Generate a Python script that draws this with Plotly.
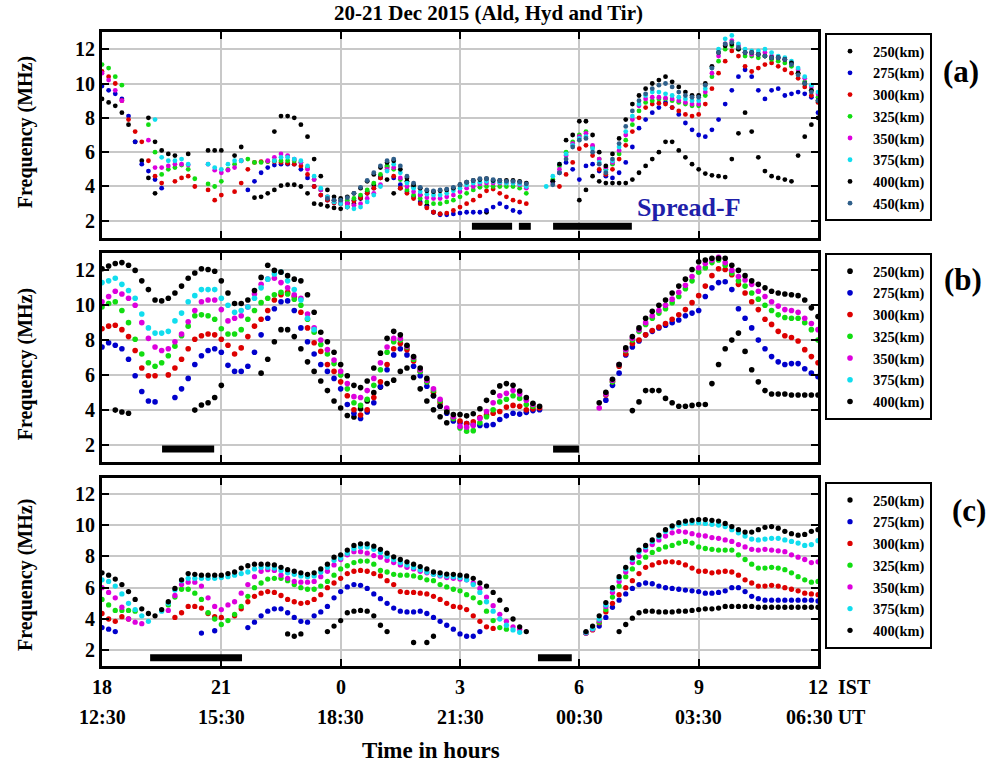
import plotly.graph_objects as go

N = None
# sampling grid: 10-minute steps from 18 IST (day 1) to 12 IST (day 2), hours on a continuous 18..36 scale
T = [18 + k / 6 for k in range(109)]

HEIGHTS_A = ["250(km)", "275(km)", "300(km)", "325(km)", "350(km)", "375(km)", "400(km)", "450(km)"]
HEIGHTS_BC = ["250(km)", "275(km)", "300(km)", "325(km)", "350(km)", "375(km)", "400(km)"]

# ---------------- panel (a) ----------------
A_250 = [
    9.1, 8.9, 8.7, 8.3, 7.6, 6.6,
    5.5, 4.5, 3.6, N, N, N,
    N, N, N, N, N, N,
    N, N, N, N, N, 3.35,
    3.4, 3.6, 3.8, 4.05, 4.1, 4.1,
    4.0, 3.6, 3.0, 2.95, 2.85, 2.75,
    2.7, 2.8, 3.0, 3.3, 3.7, 4.1,
    4.5, 4.4, 3.6, 3.9, 4.3, 4.0,
    3.5, 2.9, 2.5, 2.4, N, N,
    N, N, N, N, 2.5, N,
    N, N, N, N, N, N,
    N, N, N, N, N, N,
    3.2, 3.8, 4.6, 4.3, 4.2, 4.2,
    4.2, 4.2, 4.4, 4.8, 5.2, 5.6,
    6.0, 6.6, 6.6, 6.1, 5.7, 5.3,
    5.0, 4.75, 4.65, 4.6, 4.55, 5.6,
    7.1, 8.3, 7.2, 5.7, 4.9, 4.6,
    4.5, 4.4, 4.3, 5.8, 6.9, 7.6,
    8.0]
A_275 = [
    9.85, 9.6, 9.4, 9.1, 8.1, 6.6,
    5.3, 4.9, 4.4, 3.9, N, N,
    N, N, N, N, N, N,
    N, N, N, N, 3.8, 4.3,
    4.8, 5.1, 5.25, 5.3, 5.3, 5.3,
    5.0, 4.5, 4.0, 3.5, 3.2, 3.05,
    3.0, 3.05, 3.2, 3.4, 3.6, 3.9,
    4.6, 5.2, 4.5, 4.1, 3.7, 3.4,
    3.1, 2.8, 2.5, 2.35, 2.35, 2.4,
    2.45, 2.5, 2.5, 2.5, 2.6, 2.8,
    3.0, 2.8, 2.6, 2.5, N, N,
    N, N, 4.3, 4.8, 5.4, 5.0,
    4.4, 5.2, 5.3, 4.9, 4.6, 4.5,
    4.8, 5.4, 6.3, 7.4, 7.9, 8.3,
    8.6, 8.9, 8.6, 8.2, 7.7, 7.3,
    7.0, 6.9, 7.3, 7.9, 8.8, 9.6,
    10.4, 10.8, 10.4, 9.6, 9.1, 9.6,
    9.7, 9.3, 9.4, 9.5, 9.4, 9.2,
    8.3]
A_300 = [
    10.7, 10.4, 10.0, 9.0, 7.9, 7.2,
    6.6, 5.5, 4.6, 4.2, N, 4.3,
    4.5, 4.6, 4.0, N, 3.8, 3.2,
    3.5, N, 3.7, 4.2, 5.0, 5.4,
    5.45, 5.45, 5.45, 5.4, 5.35, 5.3,
    5.2, 4.7, 4.0, 3.5, 3.2, 3.05,
    3.0, 3.0, 3.15, 3.35, 3.6, 3.9,
    4.5, 5.1, 4.6, 3.9, 3.6, 3.3,
    3.0, 2.75, 2.5, 2.4, 2.45, 2.6,
    2.8, 3.0, 3.2, 3.45, 3.75, 3.85,
    3.6, 3.4, 3.2, 3.1, 3.0, N,
    N, N, N, 4.0, 4.7, 5.4,
    6.2, 6.4, 5.8, 5.0, 4.7, 5.0,
    5.6, 6.4, 7.2, 8.0, 8.6, 8.8,
    8.85, 8.8, 8.6, 8.4, 8.2, 8.1,
    8.2, 8.8, 9.7, 10.6, 11.3, 11.9,
    11.6, 11.0, 10.7, 10.9, 11.1, 11.2,
    11.0, 10.8, 10.6, 10.3, 9.8, 9.3,
    8.9]
A_325 = [
    11.1, 10.9, 10.4, 9.9, N, N,
    N, 7.6, 6.0, 4.7, 5.0, 5.1,
    5.25, 5.0, 4.45, N, 4.15, 4.0,
    4.3, 5.0, 5.3, 5.5, 5.6, 5.4,
    5.4, 5.45, 5.5, 5.5, 5.5, 5.5,
    5.4, 5.1, 4.4, 3.8, 3.4, 3.2,
    3.15, 3.2, 3.3, 3.5, 3.8, 4.2,
    4.7, 5.2, 5.0, 4.4, 3.8, 3.5,
    3.3, 3.1, 3.0, 3.0, 3.1, 3.2,
    3.4, 3.6, 3.8, 3.95, 4.0, 4.0,
    4.0, 4.0, 4.0, 3.9, 3.6, N,
    N, N, 4.4, 5.2, 6.0, 6.6,
    7.0, 7.2, 6.3, 5.6, 5.0, 5.3,
    5.9, 6.7, 7.6, 8.4, 8.9, 9.0,
    9.1, 9.1, 9.0, 8.9, 8.8, 8.7,
    8.7, 9.3, 10.4, 11.3, 12.0, 12.2,
    12.0, 11.6, 11.6, 11.5, 11.6, 11.4,
    11.3, 11.2, 11.0, 10.6, 10.1, 9.6,
    9.2]
A_350 = [
    10.6, 10.2, 9.6, 9.0, N, N,
    N, 6.7, 5.1, 5.1, 5.2, 5.3,
    5.3, 5.25, N, N, 5.3, 4.95,
    4.8, 4.95, 5.1, 5.5, N, N,
    N, 5.5, 5.7, 5.9, 5.8, 5.6,
    5.4, 5.0, 4.4, 3.8, 3.4, 3.2,
    3.1, 3.0, 2.9, 3.0, 3.3, 3.6,
    4.1, 5.0, 5.1, 4.5, 4.0, 3.7,
    3.5, 3.35, 3.3, 3.3, 3.4, 3.5,
    3.7, 3.9, 4.0, 4.15, 4.2, 4.2,
    4.2, 4.2, 4.2, 4.1, 3.9, N,
    N, N, 4.2, 5.0, 5.8, 6.5,
    6.9, 7.1, 6.4, 5.6, 5.1, 5.4,
    6.1, 7.0, 7.9, 8.7, 9.1, 9.2,
    9.2, 9.15, 9.1, 9.0, 8.9, 8.8,
    8.8, 9.5, 10.6, 11.6, 12.3, 12.5,
    12.2, 11.8, 11.7, 11.7, 11.8, 11.6,
    11.5, 11.4, 11.2, 10.8, 10.3, 9.8,
    9.4]
A_375 = [
    N, N, N, N, N, N,
    N, N, 7.9, 5.7, 5.5, 5.5,
    5.6, 5.3, N, N, 5.3, 5.1,
    5.0, 5.3, 5.5, 5.5, N, N,
    N, N, 5.5, 5.7, 5.7, 5.6,
    5.5, 5.2, 4.6, 3.9, 3.4, 3.1,
    3.0, 2.8, 2.7, 2.8, 3.1, 3.5,
    4.0, 4.9, 5.3, 4.8, 4.2, 3.9,
    3.7, 3.55, 3.5, 3.5, 3.6, 3.75,
    3.9, 4.1, 4.2, 4.25, 4.3, 4.3,
    4.25, 4.2, 4.2, 4.15, 4.0, N,
    N, 4.0, 4.6, 5.3, 5.9, 6.4,
    6.8, 6.9, 6.2, 5.4, 4.9, 5.5,
    6.3, 7.2, 8.1, 8.8, 9.3, 9.5,
    9.5, 9.4, 9.3, 9.2, 9.1, 9.0,
    9.0, 9.7, 10.9, 12.0, 12.6, 12.8,
    12.3, 12.0, 11.9, 11.9, 12.0, 11.8,
    11.6, 11.5, 11.3, 10.9, 10.4, 9.9,
    9.5]
A_400 = [
    N, N, N, N, N, N,
    N, 8.0, 6.6, 6.1, 5.9, 5.8,
    N, 5.9, N, N, 6.1, 6.1,
    6.1, N, 5.8, 6.3, N, N,
    N, N, 7.2, 8.1, 8.1, 8.0,
    7.6, 6.9, 5.6, 4.6, 3.8, 3.4,
    3.3, 3.4, 3.6, 3.9, 4.3, 4.7,
    5.1, 5.4, 5.5, 5.0, 4.5, 4.1,
    3.9, 3.75, 3.7, 3.75, 3.8, 3.9,
    4.1, 4.25, 4.35, 4.4, 4.45, 4.35,
    4.35, 4.35, 4.35, 4.3, 4.2, N,
    N, N, 4.3, 5.3, 6.7, 7.0,
    7.8, 7.8, 7.0, 6.0, 5.2, 5.9,
    6.8, 7.9, 8.8, 9.3, 9.7, 10.0,
    10.2, 10.4, 10.1, 9.8, 9.5, 9.3,
    9.3, 10.0, 11.0, 11.8, 12.2, 12.3,
    12.0, 11.8, 11.8, 11.7, 11.6, 11.5,
    11.5, 11.4, 11.2, 10.6, 10.0, 9.6,
    9.0]
A_450 = [
    N, N, N, N, N, N,
    N, N, N, N, N, N,
    N, N, N, N, N, N,
    N, N, N, N, N, N,
    N, N, N, N, N, N,
    N, N, N, N, 3.3, 3.2,
    3.2, 3.35, 3.6, 3.95, 4.35, 4.8,
    5.2, 5.5, 5.6, 5.2, 4.6, 4.2,
    3.95, 3.8, 3.75, 3.8, 3.85, 3.95,
    4.1, 4.25, 4.35, 4.45, 4.45, 4.4,
    4.35, 4.3, 4.3, 4.25, 4.15, N,
    N, N, 4.1, 4.8, 5.6, 6.3,
    6.7, 6.8, 6.0, 5.3, 4.8, 5.6,
    6.5, 7.5, 8.4, 9.0, 9.4, 9.7,
    9.9, 10.0, 9.8, 9.5, 9.3, 9.2,
    9.2, 9.9, 10.9, 11.8, 12.3, 12.4,
    12.1, 11.8, 11.8, 11.7, 11.6, 11.5,
    11.5, 11.4, 11.1, 10.5, 10.0, 9.5,
    9.0]

# ---------------- panel (b) ----------------
B_250 = [
    N, N, 3.98, 3.87, 3.8, N,
    N, N, N, N, N, N,
    N, N, 3.98, 4.27, 4.4, 4.7,
    5.4, N, N, N, N, N,
    6.1, 6.9, 7.9, 8.6, 8.6, 8.2,
    7.5, 6.75, 6.2, 5.65, 5.1, 4.5,
    4.1, 3.67, 3.58, 4.06, 4.5, 4.98,
    5.3, 5.5, 5.7, 6.2, 6.4, 5.85,
    5.2, 4.5, 4.0, 3.6, 3.25, N,
    N, N, N, N, N, N,
    N, N, N, N, N, N,
    N, N, N, N, N, N,
    N, N, N, N, N, N,
    N, N, 3.95, 4.45, 5.1, 5.1,
    5.1, 4.65, 4.4, 4.2, 4.2, 4.25,
    4.3, 4.3, 5.5, 6.6, 7.5, 8.0,
    8.4, 7.35, 6.3, 5.6, 5.1, 4.9,
    4.9, 4.9, 4.85, 4.85, 4.85, 4.85,
    4.85]
B_275 = [
    7.6, 7.85, 7.7, 7.5, 6.9, 5.95,
    5.05, 4.5, 4.45, N, N, 4.7,
    5.2, 5.8, 6.6, 7.1, 7.4, 7.5,
    7.3, 6.55, 6.2, 6.2, 6.5, 7.3,
    8.3, 9.25, 9.8, 10.2, 10.25, 9.7,
    8.7, 7.9, 7.2, 6.6, 6.2, 5.8,
    5.2, 4.3, 3.8, 3.5, 3.87, 4.4,
    5.33, 6.3, 7.15, 7.5, 7.15, 6.5,
    5.95, 5.35, 4.8, 4.2, 3.8, 3.35,
    3.25, 3.2, 3.15, 3.1, 3.1, 3.15,
    3.44, 3.65, 3.8, 3.75, 3.85, 3.95,
    4.0, N, N, N, N, N,
    N, N, N, N, 4.55, 5.4,
    6.1, 7.15, 7.6, 7.95, 8.3, 8.5,
    8.7, 8.85, 9.0, 9.15, 9.4, 9.55,
    9.7, 10.5, 11.0, 11.3, 11.35, 10.9,
    9.8, 9.25, 8.7, 8.0, 7.5, 7.05,
    6.75, 6.6, 6.65, 6.65, 6.35, 6.1,
    5.9]
B_300 = [
    8.65, 8.8, 8.85, 8.6, 8.2, 7.4,
    6.4, 5.95, 5.95, N, 6.0, 6.4,
    6.9, 7.5, 8.05, 8.25, 8.35, 8.3,
    8.05, 7.7, 7.2, 7.55, 8.2, 8.8,
    9.2, 9.7, 10.3, 10.6, 10.75, 10.5,
    9.6, 8.7, 7.85, 7.35, 6.6, 6.2,
    5.6, 4.8, 4.0, 3.7, 4.0, 4.7,
    5.6, 6.6, 7.5, 7.8, 7.45, 6.8,
    6.2, 5.6, 5.0, 4.4, 3.95, 3.5,
    3.35, 3.2, 3.3, 3.55, 3.7, 3.8,
    3.9, 4.15, 4.25, 4.2, 4.0, 4.05,
    4.1, N, N, N, N, N,
    N, N, N, N, 4.85, 5.6,
    6.5, 7.2, 7.8, 8.0, 8.3, 8.55,
    8.75, 8.95, 9.2, 9.45, 9.75, 10.15,
    10.55, 11.1, 11.7, 12.1, 12.05, 11.75,
    11.2, 10.7, 10.2, 9.75, 9.2, 8.9,
    8.5, 8.25, 8.15, 7.95, 7.45, 7.05,
    6.7]
B_325 = [
    9.9, 10.1, 10.2, 9.7, 9.0, 8.05,
    7.2, 6.7, 6.5, 6.7, 7.1, 7.65,
    8.25, 8.8, 9.4, 9.45, 9.4, 9.2,
    8.65, 8.35, 8.35, 8.6, 9.2, 9.7,
    10.15, 10.4, 10.6, 10.75, 10.65, 10.35,
    10.0, 9.2, 8.45, 7.75, 7.2, 6.65,
    6.0, 5.2, 4.4, 4.25, 4.6, 5.4,
    6.3, 7.3, 7.9, 8.0, 7.6, 6.9,
    6.2, 5.6, 5.1, 4.5, 4.0, 3.5,
    2.95, 2.77, 2.8, 3.25, 3.6, 4.0,
    4.45, 4.6, 4.8, 4.65, 4.3, 4.2,
    N, N, N, N, N, N,
    N, N, N, N, 4.9, 5.6,
    6.6, 7.4, 8.0, 8.5, 8.9, 9.25,
    9.55, 9.8, 10.15, 10.5, 10.95, 11.4,
    11.9, 12.15, 12.45, 12.6, 12.3, 11.85,
    11.4, 11.1, 10.7, 10.35, 10.0, 9.7,
    9.45, 9.3, 9.25, 9.25, 9.0, 8.6,
    8.0]
B_350 = [
    10.2, 10.5, 10.8, 10.65, 10.4, 10.0,
    9.0, 8.1, 7.6, 7.4, 7.5, 7.9,
    8.35, 9.05, 9.7, 10.2, 10.3, 10.3,
    9.75, 9.1, 9.25, 9.4, 9.9, 10.65,
    11.2, 11.5, 11.55, 11.3, 11.0, 10.6,
    10.4, 9.5, 8.7, 8.0, 7.45, 6.85,
    6.2, 5.5, 4.75, 4.7, 5.1, 5.8,
    6.7, 7.6, 8.1, 8.1, 7.65, 7.0,
    6.3, 5.7, 5.2, 4.6, 4.1, 3.6,
    3.05, 3.0, 3.1, 3.5, 3.9, 4.4,
    4.8, 4.95, 5.1, 4.9, 4.55, 4.3,
    N, N, N, N, N, N,
    N, N, N, 4.1, 4.9, 5.7,
    6.6, 7.45, 8.1, 8.6, 9.0, 9.4,
    9.7, 10.0, 10.35, 10.75, 11.15, 11.65,
    12.15, 12.4, 12.6, 12.75, 12.45, 12.0,
    11.65, 11.45, 11.2, 10.8, 10.5, 10.2,
    9.95, 9.75, 9.7, 9.6, 9.25, 8.95,
    8.6]
B_375 = [
    11.3, 11.4, 11.55, 11.2, 10.85, 10.4,
    9.5, 8.7, 8.4, 8.4, 8.5, 9.1,
    9.55, 10.2, 10.55, 10.9, 10.9, 10.9,
    10.4, 10.0, 9.6, 9.7, 9.9, 10.4,
    11.0, 11.5, 11.8, 11.9, 11.4, 10.9,
    10.3, 9.25, 8.6, N, N, N,
    N, N, N, N, N, N,
    N, N, N, N, N, N,
    N, N, N, N, N, N,
    N, N, N, N, N, N,
    N, N, N, N, N, N,
    N, N, N, N, N, N,
    N, N, N, N, N, N,
    N, N, N, N, N, N,
    N, N, N, N, N, N,
    N, N, N, N, N, N,
    N, N, N, N, N, N,
    N, N, N, N, N, N,
    N]
B_400 = [
    12.1, 12.25, 12.4, 12.45, 12.3, 12.0,
    11.4, 10.9, 10.3, 10.25, 10.4, 10.7,
    11.1, 11.55, 11.85, 12.1, 12.05, 11.95,
    11.4, 10.7, 10.1, 10.1, 10.3, 10.85,
    11.6, 12.3, 12.0, 11.9, 11.7, 11.5,
    11.4, 10.6, 9.6, 8.45, 7.9, 7.3,
    6.6, 5.95, 5.4, 5.27, 5.65, 6.4,
    7.25, 8.1, 8.5, 8.3, 7.7, 7.06,
    6.4, 5.8, 4.8, 4.2, 3.87, 3.73,
    3.73, 3.65, 3.77, 4.06, 4.54, 5.0,
    5.37, 5.5, 5.4, 5.08, 4.7, 4.37,
    4.2, N, N, N, N, N,
    N, N, N, 4.4, 5.0, 5.75,
    6.6, 7.55, 8.2, 8.7, 9.25, 9.65,
    10.0, 10.3, 10.7, 11.1, 11.5, 12.05,
    12.5, 12.6, 12.7, 12.7, 12.7, 12.3,
    12.0, 11.7, 11.4, 11.2, 11.0, 10.8,
    10.7, 10.65, 10.6, 10.55, 10.3, 9.85,
    9.35]

# ---------------- panel (c) ----------------
C_250 = [
    N, N, N, N, N, N,
    N, N, N, N, N, N,
    N, N, N, N, N, N,
    N, N, N, N, N, N,
    N, N, N, N, 3.05, 2.9,
    3.05, N, N, N, 3.2, 3.55,
    3.9, 4.4, 4.5, 4.55, 4.5, 4.2,
    3.6, 3.2, N, N, N, 2.5,
    N, 2.5, 2.9, N, N, N,
    N, N, N, N, N, N,
    N, N, N, N, N, N,
    N, N, N, N, N, N,
    N, N, N, N, N, N,
    3.2, 3.65, 4.05, 4.4, 4.5, 4.5,
    4.45, 4.45, 4.45, 4.5, 4.5, 4.55,
    4.6, 4.65, 4.65, 4.7, 4.8, 4.8,
    4.8, 4.8, 4.8, 4.75, 4.75, 4.75,
    4.75, 4.75, 4.75, 4.75, 4.75, 4.75,
    4.75]
C_275 = [
    3.45, 3.35, 3.2, N, N, N,
    N, N, N, N, N, N,
    N, N, N, 3.1, N, 3.25,
    N, N, N, N, 3.45, 3.8,
    4.2, 4.5, 4.65, 4.65, 4.4, 4.1,
    3.85, 3.8, 4.2, 4.45, 4.8, 5.35,
    5.75, 6.05, 6.2, 6.15, 5.95, 5.6,
    5.3, 5.0, 4.7, 4.5, 4.45, 4.45,
    4.5, 4.35, 4.1, 3.85, 3.6, 3.35,
    3.05, 2.9, 2.9, 3.2, N, N,
    N, N, N, N, N, N,
    N, N, N, N, N, N,
    N, 3.1, 3.4, 3.55, 4.1, 4.75,
    5.2, 5.6, 5.95, 6.2, 6.3, 6.25,
    6.1, 6.0, 5.95, 5.9, 5.85, 5.8,
    5.75, 5.65, 5.65, 5.7, 5.8, 6.0,
    6.0, 5.75, 5.45, 5.3, 5.2, 5.2,
    5.2, 5.2, 5.2, 5.2, 5.2, 5.2,
    5.15]
C_300 = [
    4.35, 4.0, 3.85, 4.15, 4.0, N,
    N, N, N, N, N, 4.1,
    4.4, 4.8, 4.8, 4.7, 4.35, 4.15,
    4.1, N, 4.2, 4.65, 5.1, 5.45,
    5.65, 5.75, 5.7, 5.5, 5.25, 5.1,
    5.0, 5.05, 5.25, 5.55, 6.0, 6.3,
    6.6, 6.9, 7.05, 7.1, 7.05, 6.9,
    6.75, 6.45, 6.2, 5.75, 5.7, 5.7,
    5.65, 5.6, 5.45, 5.25, 5.0, 4.8,
    4.75, 4.6, 4.2, 3.85, 3.5, 3.4,
    N, N, N, N, N, N,
    N, N, N, N, N, N,
    N, 3.1, 3.3, 3.75, 4.45, 5.0,
    5.55, 6.0, 6.45, 6.9, 7.3, 7.45,
    7.6, 7.65, 7.65, 7.6, 7.45, 7.25,
    7.05, 7.05, 6.95, 7.0, 7.05, 7.0,
    6.8, 6.5, 6.3, 6.1, 6.1, 6.15,
    6.1, 6.0, 5.9, 5.8, 5.65, 5.6,
    5.55]
C_325 = [
    5.25, 4.9, 4.55, 4.55, 4.55, 4.5,
    N, N, N, N, 4.9, 5.4,
    5.9, 5.9, 5.65, 5.25, 4.4, 4.0,
    3.65, 3.9, 4.3, 4.8, 5.45, 6.0,
    6.3, 6.55, 6.6, 6.6, 6.45, 6.2,
    6.0, 5.9, 5.9, 6.1, 6.4, 6.8,
    7.2, 7.4, 7.6, 7.7, 7.7, 7.5,
    7.1, 7.0, 6.85, 6.8, 6.8, 6.75,
    6.65, 6.5, 6.45, 6.2, 6.05, 5.9,
    5.8, 5.55, 5.35, 5.05, 4.5, 3.9,
    3.45, 3.35, N, N, N, N,
    N, N, N, N, N, N,
    N, 3.1, 3.35, 3.8, 4.6, 5.4,
    6.1, 6.7, 7.2, 7.6, 7.95, 8.25,
    8.45, 8.6, 8.7, 8.85, 8.95, 8.85,
    8.6, 8.5, 8.45, 8.4, 8.4, 8.4,
    8.1, 7.8, 7.5, 7.25, 7.25, 7.3,
    7.25, 7.15, 6.95, 6.7, 6.5, 6.35,
    6.4]
C_350 = [
    6.0, 5.7, 5.35, 4.75, 4.0, 3.8,
    3.7, N, N, N, 4.55, 5.5,
    6.2, 6.35, 6.35, 6.1, 5.35, 4.8,
    4.6, 4.9, 5.1, 5.65, 6.2, 6.7,
    7.05, 7.15, 7.1, 6.8, 6.6, 6.4,
    6.35, 6.35, 6.4, 6.7, 7.05, 7.45,
    7.8, 8.1, 8.3, 8.3, 8.2, 8.05,
    7.95, 7.75, 7.6, 7.45, 7.3, 7.2,
    7.05, 6.95, 6.85, 6.75, 6.65, 6.6,
    6.55, 6.5, 6.3, 5.95, 5.4, 4.85,
    4.3, 3.85, 3.5, 3.35, N, N,
    N, N, N, N, N, N,
    N, 3.1, 3.35, 3.9, 4.8, 5.7,
    6.4, 7.0, 7.6, 8.0, 8.4, 8.75,
    9.05, 9.3, 9.5, 9.6, 9.55, 9.45,
    9.35, 9.3, 9.2, 9.15, 9.05, 8.95,
    8.75, 8.6, 8.45, 8.4, 8.45, 8.4,
    8.35, 8.3, 8.1, 7.95, 7.8, 7.6,
    7.65]
C_375 = [
    6.5, 6.4, 6.1, 5.6, 5.0, 4.6,
    4.2, 3.85, N, 4.5, 5.0, 5.85,
    6.45, 6.6, 6.6, 6.6, 6.6, 6.6,
    6.65, 6.7, 6.8, 6.9, 7.0, 7.2,
    7.3, 7.3, 7.25, 7.1, 6.95, 6.85,
    6.75, 6.7, 6.75, 7.0, 7.3, 7.75,
    7.9, 8.2, 8.5, 8.6, 8.6, 8.45,
    8.25, 8.0, 7.8, 7.6, 7.45, 7.3,
    7.15, 7.0, 6.85, 6.8, 6.75, 6.7,
    6.65, 6.5, 6.2, 5.7, 5.1, 4.5,
    4.0, 3.6, 3.3, 3.15, N, N,
    N, N, N, N, N, N,
    N, 3.15, 3.4, 4.0, 4.9, 5.9,
    6.6, 7.2, 7.8, 8.3, 8.6, 8.95,
    9.25, 9.6, 9.85, 10.0, 10.1, 10.15,
    10.15, 10.1, 10.05, 10.0, 9.9, 9.7,
    9.5, 9.3, 9.1, 9.05, 9.1, 9.15,
    9.15, 9.05, 8.95, 8.85, 8.7, 8.75,
    9.0]
C_400 = [
    6.95, 6.8, 6.55, 6.2, 5.75, 5.25,
    4.65, 4.35, 4.2, 4.6, 5.1, 5.95,
    6.5, 6.9, 6.85, 6.8, 6.8, 6.8,
    6.8, 6.9, 7.0, 7.25, 7.4, 7.5,
    7.5, 7.5, 7.45, 7.3, 7.15, 7.05,
    6.95, 6.85, 6.95, 7.2, 7.5, 7.95,
    8.1, 8.4, 8.7, 8.8, 8.8, 8.65,
    8.45, 8.2, 7.97, 7.8, 7.65, 7.5,
    7.35, 7.2, 7.0, 6.95, 6.87, 6.85,
    6.8, 6.75, 6.6, 6.3, 6.1, 5.7,
    5.2, 4.6, 4.0, 3.5, 3.2, N,
    N, N, N, N, N, N,
    N, 3.2, 3.55, 4.2, 5.05, 6.0,
    6.7, 7.3, 7.9, 8.4, 8.7, 9.05,
    9.35, 9.7, 9.95, 10.15, 10.25, 10.3,
    10.35, 10.35, 10.3, 10.25, 10.1, 9.9,
    9.7, 9.55, 9.55, 9.7, 9.85, 9.9,
    9.8, 9.6, 9.45, 9.35, 9.4, 9.6,
    9.7]

# Spread-F intervals (start hour, end hour) and the frequency level of the bar
SPREAD_A = [(27.30, 28.31), (28.48, 28.78), (29.34, 31.32)]
SPREAD_B = [(19.51, 20.82), (29.34, 29.99)]
SPREAD_C = [(19.21, 21.52), (28.96, 29.81)]
SPREAD_LEVEL = [1.68, 1.74, 1.53]

# axis ticks
IST_TICKS = [18, 21, 24, 27, 30, 33, 36]
IST_LABELS = ["18", "21", "0", "3", "6", "9", "12"]
UT_LABELS = ["12:30", "15:30", "18:30", "21:30", "00:30", "03:30", "06:30 UT"]
Y_TICKS = [2, 4, 6, 8, 10, 12]

COLORS = ["#000000", "#0000CC", "#DD0000", "#11DD11", "#DD00DD", "#11DDEE", "#000000", "#2F5F8A"]
FONT = "Liberation Serif, Times New Roman, serif"

fig = go.Figure()

panels = [
    ([A_250, A_275, A_300, A_325, A_350, A_375, A_400, A_450], HEIGHTS_A, 4.8, "legend"),
    ([B_250, B_275, B_300, B_325, B_350, B_375, B_400], HEIGHTS_BC, 5.6, "legend2"),
    ([C_250, C_275, C_300, C_325, C_350, C_375, C_400], HEIGHTS_BC, 5.3, "legend3"),
]
for p, (series, names, msize, leg) in enumerate(panels):
    ax = "" if p == 0 else str(p + 1)
    for ys, name, col in zip(series, names, COLORS):
        fig.add_trace(go.Scatter(
            x=T, y=ys, mode="markers", name=name,
            marker=dict(color=col, size=msize, line=dict(width=0)),
            xaxis="x" + ax, yaxis="y" + ax, legend=leg, hoverinfo="skip"))

# spread-F bars
shapes = []
for p, intervals in enumerate([SPREAD_A, SPREAD_B, SPREAD_C]):
    ax = "" if p == 0 else str(p + 1)
    for (t0, t1) in intervals:
        shapes.append(dict(type="line", xref="x" + ax, yref="y" + ax,
                           x0=t0, x1=t1, y0=SPREAD_LEVEL[p], y1=SPREAD_LEVEL[p],
                           line=dict(color="black", width=7), layer="above"))

domains = [[0.6751, 1.0], [0.3218, 0.6514], [0.0, 0.2965]]
layout = dict(
    width=997, height=767,
    margin=dict(l=102, r=179, t=32, b=101),
    paper_bgcolor="white", plot_bgcolor="white",
    font=dict(family=FONT, color="black"),
    shapes=shapes,
    showlegend=True,
)
for p in range(3):
    ax = "" if p == 0 else str(p + 1)
    layout["xaxis" + ax] = dict(
        domain=[0, 1], range=[18, 36], anchor="y" + ax,
        tickvals=IST_TICKS, showticklabels=False,
        ticks="inside", ticklen=7, tickwidth=2, tickcolor="black",
        showgrid=True, gridcolor="#c8c8c8", gridwidth=1.6,
        showline=True, linecolor="black", linewidth=3, mirror="ticks",
        zeroline=False)
    layout["yaxis" + ax] = dict(
        domain=domains[p], range=[1, 13], anchor="x" + ax,
        tickvals=Y_TICKS, ticks="inside", ticklen=7, tickwidth=2, tickcolor="black",
        tickfont=dict(family=FONT, size=20, color="black", weight="bold"),
        showgrid=True, gridcolor="#c8c8c8", gridwidth=1.6,
        showline=True, linecolor="black", linewidth=3, mirror="ticks",
        zeroline=False)

leg_y = [0.998, 0.651, 0.290]
for p, key in enumerate(["legend", "legend2", "legend3"]):
    layout[key] = dict(
        x=1.0098, y=leg_y[p], xanchor="left", yanchor="top",
        bgcolor="white", bordercolor="black", borderwidth=2,
        font=dict(family=FONT, size=14.4, color="black", weight="bold"),
        tracegroupgap=0, itemsizing="trace", itemwidth=36)

fig.update_layout(**layout)

ann = []
ann.append(dict(text="<b>20-21 Dec 2015 (Ald, Hyd and Tir)</b>", x=0.54, y=1.03,
                xref="paper", yref="paper", showarrow=False, xanchor="center", yanchor="middle",
                font=dict(family=FONT, size=21, color="black")))
for yv in [0.842, 0.476, 0.1435]:
    ann.append(dict(text="<b>Frequency (MHz)</b>", x=-0.1075, y=yv, xref="paper", yref="paper",
                    xanchor="center", yanchor="middle",
                    textangle=-90, showarrow=False, font=dict(family=FONT, size=20, color="black")))
for lab, xx, yy in [("(a)", 1.1997, 0.937), ("(b)", 1.2025, 0.6104), ("(c)", 1.211, 0.246)]:
    ann.append(dict(text="<b>" + lab + "</b>", x=xx, y=yy, xref="paper", yref="paper",
                    xanchor="center", yanchor="middle",
                    showarrow=False, font=dict(family=FONT, size=31, color="black")))
ann.append(dict(text="<b>Spread-F</b>", x=0.820, y=0.7224, xref="paper", yref="paper",
                xanchor="center", yanchor="middle",
                showarrow=False, font=dict(family=FONT, size=26, color="#1F1FAA")))
for tv, il, ul in zip(IST_TICKS, IST_LABELS, UT_LABELS):
    ann.append(dict(text="<b>" + il + "</b>", x=tv, y=-0.0331, xref="x3", yref="paper",
                    xanchor="center", yanchor="middle",
                    showarrow=False, font=dict(family=FONT, size=20, color="black")))
    ann.append(dict(text="<b>" + ul + "</b>", x=tv, y=-0.0804, xref="x3", yref="paper",
                    xanchor="center", yanchor="middle",
                    xshift=(8 if ul.endswith("UT") else 0),
                    showarrow=False, font=dict(family=FONT, size=20, color="black")))
ann.append(dict(text="<b>IST</b>", x=IST_TICKS[-1], y=-0.0331, xref="x3", yref="paper",
                xanchor="center", yanchor="middle",
                xshift=36, showarrow=False, font=dict(family=FONT, size=20, color="black")))
ann.append(dict(text="<b>Time in hours</b>", x=0.4595, y=-0.1325, xref="paper", yref="paper",
                xanchor="center", yanchor="middle",
                showarrow=False, font=dict(family=FONT, size=23, color="black")))
fig.update_layout(annotations=ann)

fig.write_html("out.html")
